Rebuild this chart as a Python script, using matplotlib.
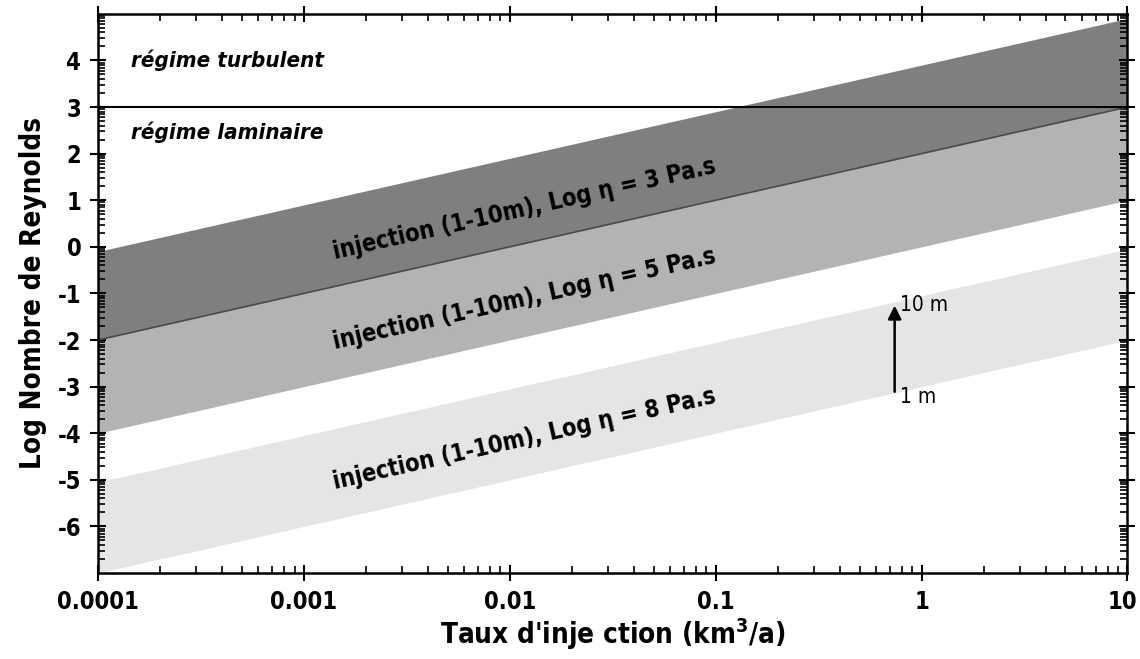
import numpy as np
import matplotlib
matplotlib.use("Agg")
import matplotlib.pyplot as plt
import matplotlib.transforms as mtransforms
from matplotlib.ticker import FixedLocator, FixedFormatter, LogLocator, NullFormatter

plt.rcParams['font.family'] = ['DejaVu Sans']
plt.rcParams['font.stretch'] = 'condensed'
plt.rcParams['axes.unicode_minus'] = False

# data: log Reynolds bounds at the two ends of the x range (1 m and 10 m)
x_ends = [1e-4, 10]
band_names = ["injection (1-10m), Log \u03b7 = 3 Pa.s",
              "injection (1-10m), Log \u03b7 = 5 Pa.s",
              "injection (1-10m), Log \u03b7 = 8 Pa.s"]
band_low = [[-2, 3], [-4, 1], [-7, -2]]
band_high = [[-0.1, 4.9], [-2, 3], [-5.05, -0.05]]
band_colors = ['#7f7f7f', '#b3b3b3', '#e4e5e5']
label_pos = [(0.0118, 0.8), (0.0118, -1.12), (0.0118, -4.12)]
turbulent_limit = 3
arrow_x = 0.74
arrow_y = [-3.17, -1.2]

xticks = [1e-4, 1e-3, 1e-2, 1e-1, 1, 10]
xticklabels = ['0.0001', '0.001', '0.01', '0.1', '1', '10']
yticks = [-6, -5, -4, -3, -2, -1, 0, 1, 2, 3, 4]

fig = plt.figure(figsize=(11.4, 6.59), dpi=100)
ax = fig.add_axes([0.086, 0.1305, 0.903, 0.8485])

# draw light -> dark so the dark band sits on top
for i in [2, 1, 0]:
    ax.fill_between(x_ends, band_low[i], band_high[i], color=band_colors[i], lw=0, zorder=1)
ax.plot(x_ends, band_low[0], color='#4a4a4a', lw=1.2, zorder=2)
ax.axhline(turbulent_limit, color='black', lw=1.5, zorder=3)

ax.set_xscale('log')
ax.set_xlim(1e-4, 10)
ax.set_ylim(-7, 5)

# rotation along the band slope (in display coords)
fig.canvas.draw()
p0 = ax.transData.transform((x_ends[0], band_low[0][0]))
p1 = ax.transData.transform((x_ends[1], band_low[0][1]))
ang = np.degrees(np.arctan2(p1[1] - p0[1], p1[0] - p0[0]))

for name, (lx, ly) in zip(band_names, label_pos):
    ax.text(lx, ly, name, rotation=ang, rotation_mode='anchor', ha='center', va='center',
            fontsize=17, fontweight='bold', zorder=4)

ax.text(1.45e-4, 4.0, "régime turbulent", fontsize=16, fontweight='bold', style='italic', va='center')
ax.text(1.45e-4, 2.45, "régime laminaire", fontsize=16, fontweight='bold', style='italic', va='center')

ax.annotate('', xy=(arrow_x, arrow_y[1]), xytext=(arrow_x, arrow_y[0]),
            arrowprops=dict(arrowstyle='-|>', color='black', lw=1.8, mutation_scale=20), zorder=5)
ax.text(0.79, arrow_y[1] - 0.05, "10 m", fontsize=15, va='center', ha='left')
ax.text(0.79, arrow_y[0] - 0.05, "1 m", fontsize=15, va='center', ha='left')

ax.xaxis.set_major_locator(FixedLocator(xticks))
ax.xaxis.set_major_formatter(FixedFormatter(xticklabels))
ax.xaxis.set_minor_locator(LogLocator(base=10, subs=np.arange(2, 10), numticks=20))
ax.xaxis.set_minor_formatter(NullFormatter())
ax.set_yticks(yticks)
# minor y ticks log-spaced inside each unit, like the original
ymin_ticks = [n + np.log10(k) for n in range(-7, 5) for k in range(2, 10)]
ax.yaxis.set_minor_locator(FixedLocator(ymin_ticks))

ax.tick_params(which='major', direction='inout', length=12, width=1.5, top=True, right=True,
               labelsize=17, pad=6)
ax.tick_params(which='minor', direction='in', length=5, width=1.2, top=True, right=True)
for lab in ax.get_xticklabels() + ax.get_yticklabels():
    lab.set_fontweight('bold')
last = ax.get_xticklabels()[-1]
last.set_transform(last.get_transform() + mtransforms.ScaledTranslation(-5 / 100, 0, fig.dpi_scale_trans))
for s in ax.spines.values():
    s.set_linewidth(1.8)

ax.set_xlabel("Taux d'inje ction (km$^\\mathregular{3}$/a)", fontsize=20, fontweight='bold', labelpad=2)
ax.set_ylabel("Log Nombre de Reynolds", fontsize=20, fontweight='bold', labelpad=8)

fig.savefig('out.png', dpi=100)
